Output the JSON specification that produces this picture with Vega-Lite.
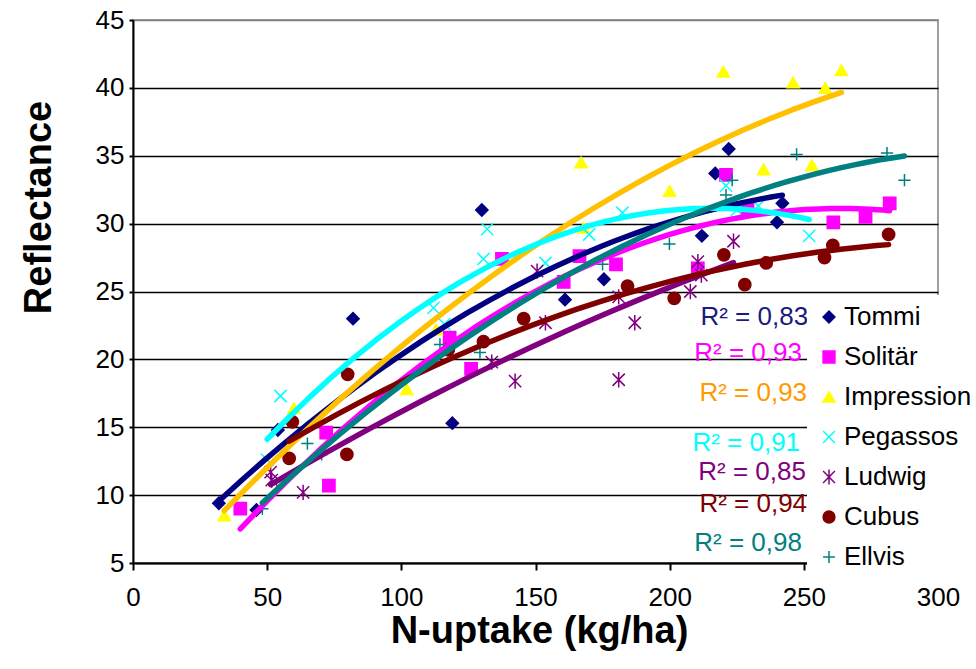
{
  "$schema": "https://vega.github.io/schema/vega-lite/v6.json",
  "width": 805,
  "height": 543,
  "autosize": "none",
  "padding": {"left": 133, "top": 20, "right": 38, "bottom": 106},
  "background": "white",
  "config": {
    "view": {"stroke": "#808080", "strokeWidth": 1.5},
    "font": "Liberation Sans"
  },
  "datasets": {
    "pts": [
      {"Variety": "Tommi", "N": 32, "Reflectance": 9.4},
      {"Variety": "Tommi", "N": 46, "Reflectance": 8.9},
      {"Variety": "Tommi", "N": 54, "Reflectance": 14.8},
      {"Variety": "Tommi", "N": 82, "Reflectance": 23.0},
      {"Variety": "Tommi", "N": 119, "Reflectance": 15.3},
      {"Variety": "Tommi", "N": 130, "Reflectance": 31.0},
      {"Variety": "Tommi", "N": 161, "Reflectance": 24.4},
      {"Variety": "Tommi", "N": 175.5, "Reflectance": 25.9},
      {"Variety": "Tommi", "N": 212, "Reflectance": 29.1},
      {"Variety": "Tommi", "N": 217, "Reflectance": 33.7},
      {"Variety": "Tommi", "N": 222, "Reflectance": 35.5},
      {"Variety": "Tommi", "N": 240, "Reflectance": 30.1},
      {"Variety": "Tommi", "N": 242, "Reflectance": 31.5},
      {"Variety": "Solitär", "N": 40, "Reflectance": 9.0},
      {"Variety": "Solitär", "N": 72, "Reflectance": 14.6},
      {"Variety": "Solitär", "N": 73, "Reflectance": 10.7},
      {"Variety": "Solitär", "N": 118, "Reflectance": 21.6},
      {"Variety": "Solitär", "N": 126, "Reflectance": 19.3},
      {"Variety": "Solitär", "N": 137.5, "Reflectance": 27.4},
      {"Variety": "Solitär", "N": 160.5, "Reflectance": 25.7},
      {"Variety": "Solitär", "N": 166.4, "Reflectance": 27.6},
      {"Variety": "Solitär", "N": 180, "Reflectance": 27.0},
      {"Variety": "Solitär", "N": 210.5, "Reflectance": 26.7},
      {"Variety": "Solitär", "N": 221, "Reflectance": 33.6},
      {"Variety": "Solitär", "N": 229, "Reflectance": 31.1},
      {"Variety": "Solitär", "N": 261, "Reflectance": 30.1},
      {"Variety": "Solitär", "N": 273, "Reflectance": 30.5},
      {"Variety": "Solitär", "N": 282, "Reflectance": 31.5},
      {"Variety": "Impression", "N": 34, "Reflectance": 8.5},
      {"Variety": "Impression", "N": 60, "Reflectance": 16.4},
      {"Variety": "Impression", "N": 102, "Reflectance": 17.8},
      {"Variety": "Impression", "N": 113, "Reflectance": 22.2},
      {"Variety": "Impression", "N": 167, "Reflectance": 34.5},
      {"Variety": "Impression", "N": 168, "Reflectance": 29.7},
      {"Variety": "Impression", "N": 200, "Reflectance": 32.4},
      {"Variety": "Impression", "N": 220, "Reflectance": 41.2},
      {"Variety": "Impression", "N": 235, "Reflectance": 34.0},
      {"Variety": "Impression", "N": 246, "Reflectance": 40.4},
      {"Variety": "Impression", "N": 253, "Reflectance": 34.3},
      {"Variety": "Impression", "N": 258, "Reflectance": 40.0},
      {"Variety": "Impression", "N": 264, "Reflectance": 41.3},
      {"Variety": "Pegassos", "N": 50, "Reflectance": 12.6},
      {"Variety": "Pegassos", "N": 55, "Reflectance": 17.3},
      {"Variety": "Pegassos", "N": 112, "Reflectance": 23.8},
      {"Variety": "Pegassos", "N": 116, "Reflectance": 22.6},
      {"Variety": "Pegassos", "N": 130.6, "Reflectance": 27.4},
      {"Variety": "Pegassos", "N": 132, "Reflectance": 29.6},
      {"Variety": "Pegassos", "N": 153.7, "Reflectance": 27.1},
      {"Variety": "Pegassos", "N": 170, "Reflectance": 29.2},
      {"Variety": "Pegassos", "N": 182.4, "Reflectance": 30.8},
      {"Variety": "Pegassos", "N": 221, "Reflectance": 32.8},
      {"Variety": "Pegassos", "N": 225, "Reflectance": 31.0},
      {"Variety": "Pegassos", "N": 233, "Reflectance": 31.3},
      {"Variety": "Pegassos", "N": 252, "Reflectance": 29.1},
      {"Variety": "Ludwig", "N": 51.3, "Reflectance": 11.7},
      {"Variety": "Ludwig", "N": 51.7, "Reflectance": 11.1},
      {"Variety": "Ludwig", "N": 63.4, "Reflectance": 10.2},
      {"Variety": "Ludwig", "N": 133.7, "Reflectance": 19.8},
      {"Variety": "Ludwig", "N": 142.4, "Reflectance": 18.4},
      {"Variety": "Ludwig", "N": 150.6, "Reflectance": 26.5},
      {"Variety": "Ludwig", "N": 153.7, "Reflectance": 22.7},
      {"Variety": "Ludwig", "N": 181, "Reflectance": 18.5},
      {"Variety": "Ludwig", "N": 181, "Reflectance": 24.6},
      {"Variety": "Ludwig", "N": 187, "Reflectance": 22.7},
      {"Variety": "Ludwig", "N": 207.7, "Reflectance": 25.0},
      {"Variety": "Ludwig", "N": 210.5, "Reflectance": 27.2},
      {"Variety": "Ludwig", "N": 211.8, "Reflectance": 26.2},
      {"Variety": "Ludwig", "N": 223.8, "Reflectance": 28.7},
      {"Variety": "Cubus", "N": 58.2, "Reflectance": 12.7},
      {"Variety": "Cubus", "N": 59.4, "Reflectance": 15.4},
      {"Variety": "Cubus", "N": 79.7, "Reflectance": 13.0},
      {"Variety": "Cubus", "N": 80, "Reflectance": 18.9},
      {"Variety": "Cubus", "N": 117.5, "Reflectance": 20.7},
      {"Variety": "Cubus", "N": 130.6, "Reflectance": 21.3},
      {"Variety": "Cubus", "N": 145.6, "Reflectance": 23.0},
      {"Variety": "Cubus", "N": 184.3, "Reflectance": 25.4},
      {"Variety": "Cubus", "N": 201.7, "Reflectance": 24.5},
      {"Variety": "Cubus", "N": 220.2, "Reflectance": 27.7},
      {"Variety": "Cubus", "N": 228, "Reflectance": 25.5},
      {"Variety": "Cubus", "N": 236, "Reflectance": 27.1},
      {"Variety": "Cubus", "N": 257.7, "Reflectance": 27.5},
      {"Variety": "Cubus", "N": 260.8, "Reflectance": 28.4},
      {"Variety": "Cubus", "N": 281.6, "Reflectance": 29.2},
      {"Variety": "Ellvis", "N": 48.2, "Reflectance": 9.0},
      {"Variety": "Ellvis", "N": 65, "Reflectance": 13.8},
      {"Variety": "Ellvis", "N": 70.3, "Reflectance": 13.0},
      {"Variety": "Ellvis", "N": 114.4, "Reflectance": 21.1},
      {"Variety": "Ellvis", "N": 129.3, "Reflectance": 20.5},
      {"Variety": "Ellvis", "N": 175, "Reflectance": 27.0},
      {"Variety": "Ellvis", "N": 199.9, "Reflectance": 28.5},
      {"Variety": "Ellvis", "N": 221, "Reflectance": 32.1},
      {"Variety": "Ellvis", "N": 223.3, "Reflectance": 33.2},
      {"Variety": "Ellvis", "N": 247.3, "Reflectance": 35.1},
      {"Variety": "Ellvis", "N": 281, "Reflectance": 35.2},
      {"Variety": "Ellvis", "N": 287.5, "Reflectance": 33.2}
    ],
    "r2": [
      {"Variety": "Tommi", "label": "R² = 0,83", "N": 251.6, "Reflectance": 22.55},
      {"Variety": "Solitär", "label": "R² = 0,93", "N": 249.3, "Reflectance": 19.9},
      {"Variety": "Impression", "label": "R² = 0,93", "N": 251.2, "Reflectance": 16.95},
      {"Variety": "Pegassos", "label": "R² = 0,91", "N": 248.6, "Reflectance": 13.26},
      {"Variety": "Ludwig", "label": "R² = 0,85", "N": 250.8, "Reflectance": 11.12},
      {"Variety": "Cubus", "label": "R² = 0,94", "N": 251.2, "Reflectance": 8.76},
      {"Variety": "Ellvis", "label": "R² = 0,98", "N": 249.3, "Reflectance": 5.88}
    ]
  },
  "layer": [
    {
      "data": {"name": "pts"},
      "mark": {"type": "point", "filled": true, "strokeWidth": 1.5, "size": 150, "opacity": 1},
      "encoding": {
        "x": {
          "field": "N", "type": "quantitative",
          "scale": {"domain": [0, 300], "nice": false, "zero": false},
          "axis": {
            "values": [0, 50, 100, 150, 200, 250, 300],
            "grid": false,
            "domainColor": "black", "domainWidth": 2,
            "tickColor": "black", "tickWidth": 2, "tickSize": 7,
            "labelFont": "Liberation Sans", "labelFontSize": 26, "labelColor": "black", "labelPadding": 14,
            "labelFlush": false, "labelOverlap": false,
            "title": "N-uptake (kg/ha)",
            "titleFont": "Liberation Sans", "titleFontSize": 38, "titleFontWeight": "bold", "titleColor": "black",
            "titleX": 406, "titleY": 79, "titleAlign": "center", "titleBaseline": "alphabetic"
          }
        },
        "y": {
          "field": "Reflectance", "type": "quantitative",
          "scale": {"domain": [5, 45], "nice": false, "zero": false},
          "axis": {
            "values": [5, 10, 15, 20, 25, 30, 35, 40, 45],
            "grid": true,
            "gridColor": {"condition": {"test": "datum.value === 45", "value": "#808080"}, "value": "black"},
            "gridWidth": 1.5,
            "domainColor": "black", "domainWidth": 2,
            "tickColor": "black", "tickWidth": 2, "tickSize": 4,
            "labelFont": "Liberation Sans", "labelFontSize": 26, "labelColor": "black", "labelPadding": 5,
            "labelFlush": false, "labelOverlap": false,
            "title": "Reflectance",
            "titleFont": "Liberation Sans", "titleFontSize": 38, "titleFontWeight": "bold", "titleColor": "black",
            "titleX": -83, "titleY": 187, "titleAlign": "center", "titleBaseline": "alphabetic", "titleAngle": 270
          }
        },
        "fill": {
          "field": "Variety", "type": "nominal",
          "scale": {
            "domain": ["Tommi", "Solitär", "Impression", "Pegassos", "Ludwig", "Cubus", "Ellvis"],
            "range": ["#000080", "#FF00FF", "#FFFF00", "#00FFFF", "#800080", "#800000", "#008080"]
          },
          "legend": {"title": null, "orient": "none", "legendX": 674, "legendY": 275, "fillColor": "white", "padding": 9,
            "labelFont": "Liberation Sans", "labelFontSize": 26, "labelColor": "black", "labelOffset": 2,
            "symbolSize": 140, "symbolStrokeWidth": 1.5, "rowPadding": 14}
        },
        "stroke": {
          "field": "Variety", "type": "nominal",
          "scale": {
            "domain": ["Tommi", "Solitär", "Impression", "Pegassos", "Ludwig", "Cubus", "Ellvis"],
            "range": ["#000080", "#FF00FF", "#FFFF00", "#00FFFF", "#800080", "#800000", "#008080"]
          },
          "legend": {"title": null, "orient": "none", "legendX": 674, "legendY": 275, "fillColor": "white", "padding": 9,
            "labelFont": "Liberation Sans", "labelFontSize": 26, "labelColor": "black", "labelOffset": 2,
            "symbolSize": 140, "symbolStrokeWidth": 1.5, "rowPadding": 14}
        },
        "shape": {
          "field": "Variety", "type": "nominal",
          "scale": {
            "domain": ["Tommi", "Solitär", "Impression", "Pegassos", "Ludwig", "Cubus", "Ellvis"],
            "range": ["diamond", "square", "triangle-up", "M-1,-1L1,1M-1,1L1,-1", "M-1,-1L1,1M-1,1L1,-1M0,-1.25L0,1.25", "circle", "M-1,0L1,0M0,-1L0,1"]
          },
          "legend": {"title": null, "orient": "none", "legendX": 674, "legendY": 275, "fillColor": "white", "padding": 9,
            "labelFont": "Liberation Sans", "labelFontSize": 26, "labelColor": "black", "labelOffset": 2,
            "symbolSize": 140, "symbolStrokeWidth": 1.5, "rowPadding": 14}
        }
      }
    },
    {
      "data": {"name": "pts"},
      "transform": [
        {"regression": "Reflectance", "on": "N", "groupby": ["Variety"], "method": "poly", "order": 2}
      ],
      "mark": {"type": "line", "strokeWidth": 5.5, "strokeCap": "round", "strokeJoin": "round"},
      "encoding": {
        "x": {"field": "N", "type": "quantitative"},
        "y": {"field": "Reflectance", "type": "quantitative"},
        "color": {
          "field": "Variety", "type": "nominal",
          "scale": {
            "domain": ["Tommi", "Solitär", "Impression", "Pegassos", "Ludwig", "Cubus", "Ellvis"],
            "range": ["#000080", "#FF00FF", "#FFC000", "#00FFFF", "#800080", "#800000", "#008080"]
          },
          "legend": null
        }
      }
    },
    {
      "data": {"name": "r2"},
      "mark": {"type": "text", "align": "right", "baseline": "alphabetic", "font": "Liberation Sans", "fontSize": 26},
      "encoding": {
        "x": {"field": "N", "type": "quantitative"},
        "y": {"field": "Reflectance", "type": "quantitative"},
        "text": {"field": "label"},
        "color": {
          "field": "Variety", "type": "nominal",
          "scale": {
            "domain": ["Tommi", "Solitär", "Impression", "Pegassos", "Ludwig", "Cubus", "Ellvis"],
            "range": ["#1A1A80", "#FF00FF", "#FF9900", "#00FFFF", "#800080", "#800000", "#008080"]
          },
          "legend": null
        }
      }
    }
  ],
  "resolve": {"scale": {"color": "independent"}}
}
